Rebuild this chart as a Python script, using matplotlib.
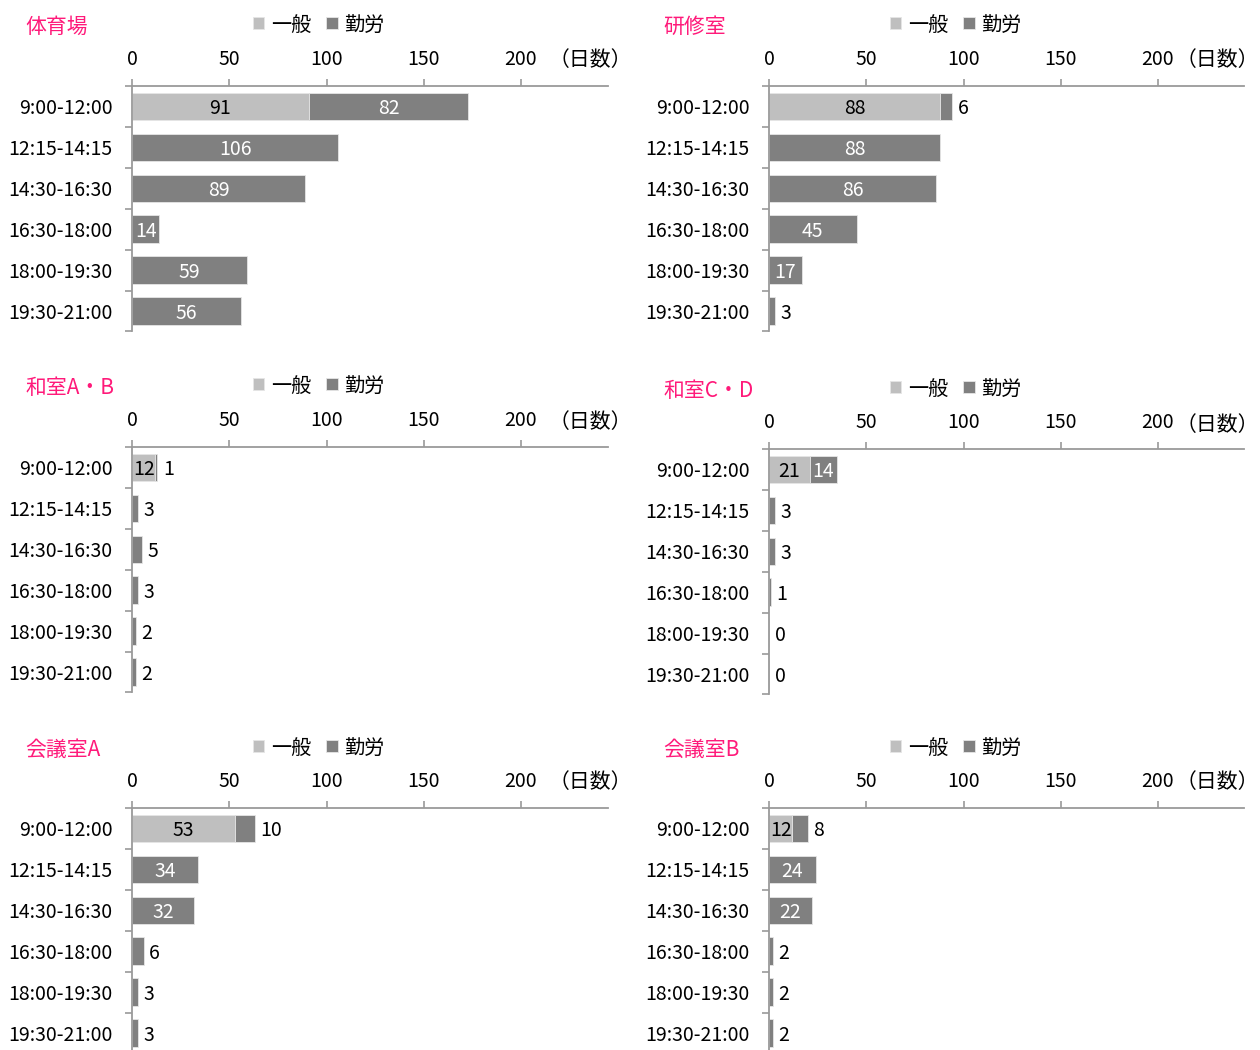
import matplotlib
matplotlib.use('Agg')
import matplotlib.pyplot as plt

plt.rcParams['font.family'] = ['Noto Sans CJK JP', 'DejaVu Sans']

# ---------------- data ----------------
time_slots = ['9:00-12:00', '12:15-14:15', '14:30-16:30',
              '16:30-18:00', '18:00-19:30', '19:30-21:00']
facilities = ['体育場', '研修室', '和室A・B', '和室C・D', '会議室A', '会議室B']
series_names = ['一般', '勤労']

ippan_taiikujo = [91, 0, 0, 0, 0, 0]
kinro_taiikujo = [82, 106, 89, 14, 59, 56]
ippan_kenshu = [88, 0, 0, 0, 0, 0]
kinro_kenshu = [6, 88, 86, 45, 17, 3]
ippan_washitsu_ab = [12, 0, 0, 0, 0, 0]
kinro_washitsu_ab = [1, 3, 5, 3, 2, 2]
ippan_washitsu_cd = [21, 0, 0, 0, 0, 0]
kinro_washitsu_cd = [14, 3, 3, 1, 0, 0]
ippan_kaigi_a = [53, 0, 0, 0, 0, 0]
kinro_kaigi_a = [10, 34, 32, 6, 3, 3]
ippan_kaigi_b = [12, 0, 0, 0, 0, 0]
kinro_kaigi_b = [8, 24, 22, 2, 2, 2]

x_ticks = [0, 50, 100, 150, 200]
unit_label = '（日数）'

ippan_all = [ippan_taiikujo, ippan_kenshu, ippan_washitsu_ab,
             ippan_washitsu_cd, ippan_kaigi_a, ippan_kaigi_b]
kinro_all = [kinro_taiikujo, kinro_kenshu, kinro_washitsu_ab,
             kinro_washitsu_cd, kinro_kaigi_a, kinro_kaigi_b]

# ---------------- style ----------------
W, H = 1260, 1050
C_IPPAN = '#BFBFBF'
C_KINRO = '#808080'
C_AXIS = '#9A9A9A'
C_TITLE = '#FF1A7A'
PX_PER_UNIT = 1.945
FS = 14

fig = plt.figure(figsize=(W / 100, H / 100), dpi=100)
fig.patch.set_facecolor('white')

# (x0 of zero, x end, y top axis, title y, tick-label y, title x, legend x, unit right x)
layout = [
    (132, 608, 86, 24, 58, 25, 253, 632),
    (769, 1244, 86, 24, 58, 663, 890, 1259),
    (132, 608, 447, 385, 419, 25, 253, 632),
    (769, 1244, 449, 388, 422, 663, 890, 1259),
    (132, 608, 808, 747, 780, 25, 253, 632),
    (769, 1244, 808, 747, 780, 663, 890, 1259),
]
ROW_H = 40.9

for i, (x0, x1, ytop, ty, tly, tx, lx, ux) in enumerate(layout):
    ybot = ytop + ROW_H * len(time_slots)
    ax = fig.add_axes([x0 / W, 1 - ybot / H, (x1 - x0) / W, (ybot - ytop) / H])
    ip = ippan_all[i]
    kr = kinro_all[i]
    ypos = list(range(len(time_slots)))
    b1 = ax.barh(ypos, ip, height=0.67, color=C_IPPAN, edgecolor='#E6E6E6',
                 linewidth=0.6, label=series_names[0])
    b2 = ax.barh(ypos, kr, left=ip, height=0.67, color=C_KINRO,
                 edgecolor='#E6E6E6', linewidth=0.6, label=series_names[1])
    ax.set_xlim(0, (x1 - x0) / PX_PER_UNIT)
    ax.set_ylim(len(time_slots) - 0.5, -0.5)

    # value labels
    for y, a, b in zip(ypos, ip, kr):
        if a > 0:
            ax.text(a / 2, y, str(a), ha='center', va='center_baseline',
                    fontsize=FS, color='black')
        if b >= 14:
            ax.text(a + b / 2, y, str(b), ha='center', va='center_baseline',
                    fontsize=FS, color='white')
        else:
            ax.annotate(str(b), (a + b, y), xytext=(4, 0),
                        textcoords='offset points', ha='left',
                        va='center_baseline', fontsize=FS, color='black')

    # axes styling
    for s in ['right', 'bottom']:
        ax.spines[s].set_visible(False)
    for s in ['left', 'top']:
        ax.spines[s].set_color(C_AXIS)
        ax.spines[s].set_linewidth(1.3)
    ax.xaxis.tick_top()
    ax.set_xticks(x_ticks)
    ax.set_xticklabels([str(v) for v in x_ticks])
    ax.tick_params(axis='x', direction='out', length=5, width=1.2,
                   color=C_AXIS, labelsize=FS, pad=6.5)
    ax.set_yticks(ypos)
    ax.set_yticklabels(time_slots, va='center_baseline')
    ax.set_yticks([k - 0.5 for k in range(len(time_slots) + 1)], minor=True)
    ax.tick_params(axis='y', which='major', length=0, labelsize=FS, pad=14)
    ax.tick_params(axis='y', which='minor', direction='out', length=5,
                   width=1.2, color=C_AXIS)

    # title
    fig.text(tx / W, 1 - ty / H, facilities[i], color=C_TITLE, fontsize=15,
             ha='left', va='center_baseline')
    # unit label
    fig.text(ux / W, 1 - tly / H, unit_label, fontsize=15, ha='right',
             va='center_baseline')
    # legend
    fig.legend(handles=[b1, b2], labels=series_names, ncol=2, frameon=False,
               loc='center left', bbox_to_anchor=(lx / W, 1 - (ty + 1) / H),
               bbox_transform=fig.transFigure, fontsize=14.5,
               handlelength=0.55, handleheight=0.55, handletextpad=0.35,
               columnspacing=0.75, borderpad=0, borderaxespad=0)

fig.savefig('out.png', dpi=100, facecolor='white')
